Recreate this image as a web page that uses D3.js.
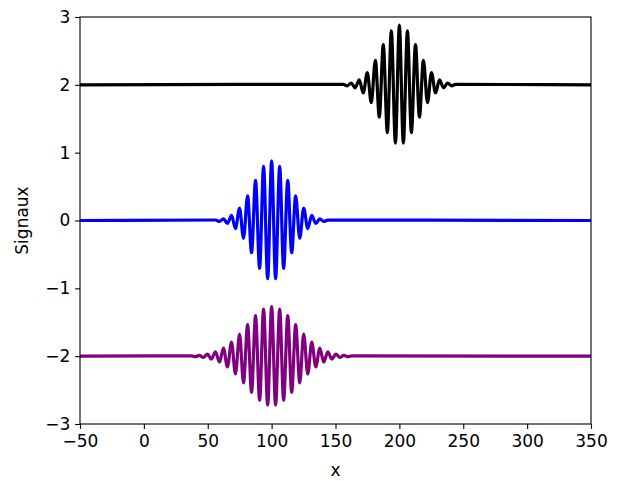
<!DOCTYPE html>
<html>
<head>
<meta charset="utf-8">
<script src="https://cdn.jsdelivr.net/npm/d3@7"></script>
<style>
  body { margin: 0; background: #fff; }
  svg { display: block; }
  .tick text { font-family: "DejaVu Sans", sans-serif; font-size: 17px; fill: #000; }
  .label { font-family: "DejaVu Sans", sans-serif; font-size: 17px; fill: #000; }
</style>
</head>
<body>
<div id="chart"></div>
<script>
// extrema of each wave packet (signal value, before offset)
const blackX = [156.0, 159.2, 162.3, 165.4, 168.6, 171.7, 174.9, 178.0, 181.2, 184.3, 187.4, 190.6, 193.7, 196.9,
  200, 203.1, 206.3, 209.4, 212.6, 215.7, 218.8, 222.0, 225.1, 228.3, 231.4, 234.6, 237.7, 240.8, 244.0];
const blackY = [0.007, -0.014, 0.025, -0.044, 0.075, -0.119, 0.181, -0.263, 0.362, -0.475, 0.593, -0.705, 0.797, -0.859,
  0.88, -0.859, 0.797, -0.705, 0.593, -0.475, 0.362, -0.263, 0.181, -0.119, 0.075, -0.044, 0.025, -0.014, 0.007];

const blueX = [56.0, 59.2, 62.3, 65.4, 68.6, 71.7, 74.9, 78.0, 81.2, 84.3, 87.4, 90.6, 93.7, 96.9,
  100, 103.1, 106.3, 109.4, 112.6, 115.7, 118.8, 122.0, 125.1, 128.3, 131.4, 134.6, 137.7, 140.8, 144.0];
const blueY = [0.007, -0.014, 0.025, -0.044, 0.075, -0.119, 0.181, -0.263, 0.362, -0.475, 0.593, -0.705, 0.797, -0.859,
  0.88, -0.859, 0.797, -0.705, 0.593, -0.475, 0.362, -0.263, 0.181, -0.119, 0.075, -0.044, 0.025, -0.014, 0.007];

const purpleX = [37.2, 40.3, 43.5, 46.6, 49.7, 52.9, 56.0, 59.2, 62.3, 65.4, 68.6, 71.7, 74.9, 78.0, 81.2, 84.3, 87.4, 90.6, 93.7, 96.9,
  100, 103.1, 106.3, 109.4, 112.6, 115.7, 118.8, 122.0, 125.1, 128.3, 131.4, 134.6, 137.7, 140.8, 144.0, 147.1, 150.3, 153.4, 156.5, 159.7, 162.8];
const purpleY = [0.005, -0.008, 0.012, -0.019, 0.029, -0.043, 0.062, -0.087, 0.119, -0.159, 0.207, -0.263, 0.326, -0.394, 0.464, -0.533, 0.597, -0.652, 0.694, -0.721,
  0.73, -0.721, 0.694, -0.652, 0.597, -0.533, 0.464, -0.394, 0.326, -0.263, 0.207, -0.159, 0.119, -0.087, 0.062, -0.043, 0.029, -0.019, 0.012, -0.008, 0.005];

const seriesNames = ['black', 'blue', 'purple'];
const seriesOffsets = [2, 0, -2];
const seriesColors = ['#000000', '#0000ff', '#800080'];

const xTicks = [-50, 0, 50, 100, 150, 200, 250, 300, 350];
const yTicks = [-3, -2, -1, 0, 1, 2, 3];
const xDomain = [-50, 350];
const yDomain = [-3, 3];

function makeChart() {
  const width = 617,
        height = 481;
  const margin = { top: 17, right: 26, bottom: 57, left: 80 };

  const scaleX = d3.scaleLinear()
        .domain(xDomain)
        .range([margin.left, width - margin.right]);

  const scaleY = d3.scaleLinear()
        .domain(yDomain)
        .range([height - margin.bottom, margin.top]);

  const svg = d3.select('#chart').append('svg')
        .attr('width', width)
        .attr('height', height);

  svg.append('defs').append('clipPath')
    .attr('id', 'plot-clip')
    .append('rect')
    .attr('x', margin.left)
    .attr('y', margin.top)
    .attr('width', width - margin.left - margin.right)
    .attr('height', height - margin.top - margin.bottom);

  const pts = (xs, ys) => xs.map((x, i) => ({ x, y: ys[i] }));
  const data = [pts(blackX, blackY), pts(blueX, blueY), pts(purpleX, purpleY)];

  const line = d3.line()
        .x(d => scaleX(d.x))
        .y(d => scaleY(d.y))
        .curve(d3.curveMonotoneX);

  const g = svg.append('g').attr('clip-path', 'url(#plot-clip)');

  data.forEach((d, i) => {
    // flat baseline at both ends of the axis
    const full = [{ x: xDomain[0], y: 0 }].concat(d, [{ x: xDomain[1], y: 0 }])
          .map(p => ({ x: p.x, y: p.y + seriesOffsets[i] }));
    g.append('path')
      .datum(full)
      .attr('class', `signal-${seriesNames[i]}`)
      .attr('fill', 'none')
      .attr('stroke', seriesColors[i])
      .attr('stroke-width', 3.2)
      .attr('stroke-linejoin', 'round')
      .attr('d', line);
  });

  const fmt = v => String(v).replace('-', '\u2212');

  const xAxis = svg.append('g')
        .attr('transform', `translate(0,${height - margin.bottom})`)
        .call(d3.axisBottom(scaleX).tickValues(xTicks).tickFormat(fmt).tickSize(4.9).tickPadding(4.9));

  const yAxis = svg.append('g')
        .attr('transform', `translate(${margin.left},0)`)
        .call(d3.axisLeft(scaleY).tickValues(yTicks).tickFormat(fmt).tickSize(4.9).tickPadding(4.9));

  [xAxis, yAxis].forEach(ax => {
    ax.select('.domain').remove();
    ax.selectAll('.tick line').attr('stroke', '#000').attr('stroke-width', 1.1);
  });
  xAxis.selectAll('.tick text').attr('dy', '0.75em');

  // frame
  svg.append('rect')
    .attr('x', margin.left)
    .attr('y', margin.top)
    .attr('width', width - margin.left - margin.right)
    .attr('height', height - margin.top - margin.bottom)
    .attr('fill', 'none')
    .attr('stroke', '#000')
    .attr('stroke-width', 1.1);

  svg.append('text')
    .attr('class', 'label')
    .attr('x', (margin.left + width - margin.right) / 2)
    .attr('y', 476)
    .attr('text-anchor', 'middle')
    .text('x');

  svg.append('text')
    .attr('class', 'label')
    .attr('transform', `translate(28,${(margin.top + height - margin.bottom) / 2}) rotate(-90)`)
    .attr('text-anchor', 'middle')
    .text('Signaux');
}

makeChart();
</script>
</body>
</html>
